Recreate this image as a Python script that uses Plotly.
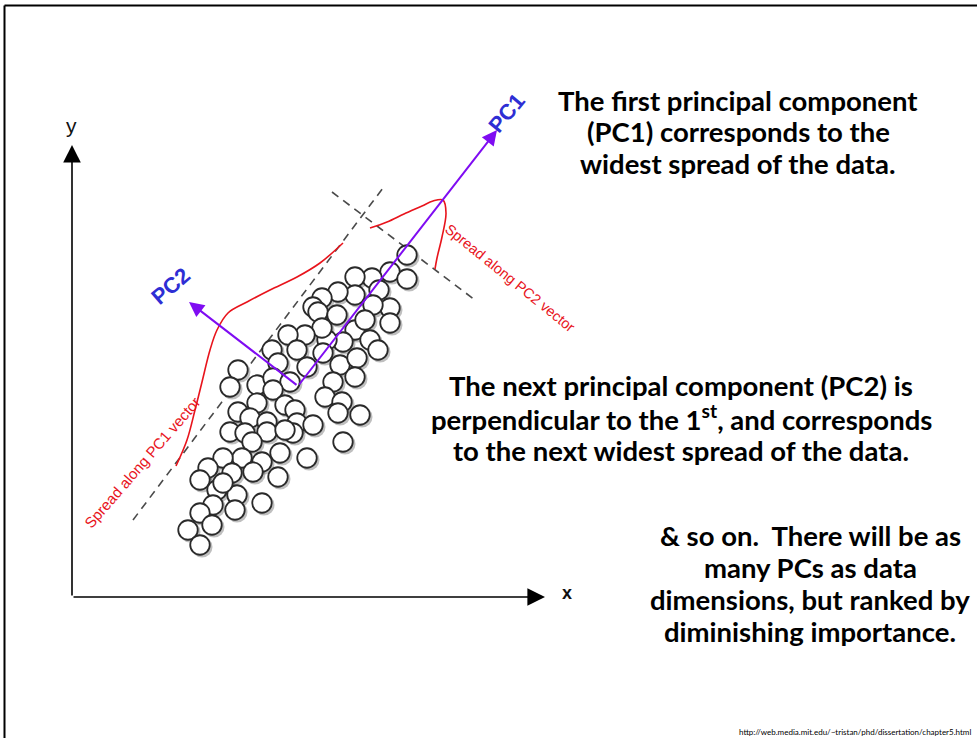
import plotly.graph_objects as go

# ---- data (diagram coordinates: origin at the x/y axes corner, 1 unit ~ 1 px) ----
pts_x = [335, 318, 335, 300, 283, 307, 318, 318, 301, 283, 266, 250, 241, 246, 265, 283, 293, 298, 306, 271,
         255, 250, 233, 216, 225, 251, 268, 285, 283, 261, 235, 200, 206, 166, 158, 185, 201, 218, 201, 185,
         166, 178, 158, 173, 195, 195, 213, 223, 225, 221, 213, 241, 253, 270, 266, 288, 271, 235, 208, 190,
         180, 170, 151, 136, 160, 181, 206, 128, 145, 165, 141, 163, 128, 190, 140, 116, 128, 151]
pts_y = [342, 325, 318, 319, 320, 307, 289, 274, 292, 302, 305, 299, 290, 285, 282, 267, 277, 257, 247, 255,
         257, 269, 262, 262, 247, 244, 232, 239, 220, 215, 230, 247, 234, 227, 210, 212, 219, 215, 207, 194,
         185, 179, 165, 164, 175, 165, 192, 187, 174, 164, 167, 172, 200, 195, 184, 182, 155, 139, 144, 135,
         155, 139, 139, 129, 124, 125, 120, 117, 107, 102, 92, 87, 84, 94, 72, 67, 52, 114]

pc_origin = (226, 211)
pc1_tip = (425, 467)
pc2_tip = (117, 295)

dash1_x = [61, 311]
dash1_y = [77, 409]
dash2_x = [260, 403]
dash2_y = [405, 297]

spread1_x = [104, 115, 123, 130, 138, 145, 156, 175, 198, 225, 248, 271]
spread1_y = [131, 157, 187, 215, 247, 267, 284, 295, 307, 320, 334, 354]
spread2_x = [298, 315, 332, 350, 361, 371, 374, 370, 365, 363]
spread2_y = [369, 375, 383, 391, 396, 397, 384, 360, 339, 328]

block1 = ["The first principal component", "(PC1) corresponds to the", "widest spread of the data."]
block2 = ["The next principal component (PC2) is",
          "perpendicular to the 1<sup>st</sup>, and corresponds",
          "to the next widest spread of the data."]
block3 = ["&amp; so on.  There will be as", "many PCs as data", "dimensions, but ranked by",
          "diminishing importance."]
source = "http://web.media.mit.edu/~tristan/phd/dissertation/chapter5.html"

PURPLE = "#7f0cf2"
BLUE = "#2e2ed4"
RED = "#e8141c"
GRAY = "#4a4a4a"

fig = go.Figure()

# dashed guide lines
for xs, ys in [(dash1_x, dash1_y), (dash2_x, dash2_y)]:
    fig.add_trace(go.Scatter(x=xs, y=ys, mode="lines",
                             line=dict(color=GRAY, width=1.6, dash="8px,6px"), hoverinfo="skip"))

# red spread curves
for xs, ys in [(spread1_x, spread1_y), (spread2_x, spread2_y)]:
    fig.add_trace(go.Scatter(x=xs, y=ys, mode="lines",
                             line=dict(color=RED, width=1.6, shape="spline", smoothing=1.0), hoverinfo="skip"))

# circle shadows and circles
fig.add_trace(go.Scatter(x=[v + 2 for v in pts_x], y=[v - 2 for v in pts_y], mode="markers",
                         marker=dict(size=21, color="rgba(0,0,0,0.25)", line=dict(width=0)), hoverinfo="skip"))
fig.add_trace(go.Scatter(x=pts_x, y=pts_y, mode="markers",
                         marker=dict(size=19.5, color="white", line=dict(color="#2a2a2a", width=1.8)),
                         hoverinfo="skip"))

annotations = []
# axes arrows
annotations.append(dict(x=0, y=452, ax=0, ay=0, xref="x", yref="y", axref="x", ayref="y", text="",
                        showarrow=True, arrowhead=2, arrowsize=2.2, arrowwidth=1.6, arrowcolor="black", standoff=0))
annotations.append(dict(x=473, y=0, ax=0, ay=0, xref="x", yref="y", axref="x", ayref="y", text="",
                        showarrow=True, arrowhead=2, arrowsize=2.2, arrowwidth=1.6, arrowcolor="black", standoff=0))
annotations.append(dict(x=-1, y=472, xref="x", yref="y", text="y", showarrow=False,
                        font=dict(family="Liberation Sans", size=21, color="#111")))
annotations.append(dict(x=495, y=4, xref="x", yref="y", text="<b>x</b>", showarrow=False,
                        font=dict(family="Liberation Sans", size=18, color="#111")))
# PC arrows
for tip in (pc1_tip, pc2_tip):
    annotations.append(dict(x=tip[0], y=tip[1], ax=pc_origin[0], ay=pc_origin[1], xref="x", yref="y",
                            axref="x", ayref="y", text="", showarrow=True, arrowhead=2, arrowsize=1.5,
                            arrowwidth=2, arrowcolor=PURPLE, standoff=0))
annotations.append(dict(x=434, y=484, xref="x", yref="y", text="<b>PC1</b>", showarrow=False, textangle=-50,
                        font=dict(family="Liberation Sans", size=22, color=BLUE)))
annotations.append(dict(x=98, y=311, xref="x", yref="y", text="<b>PC2</b>", showarrow=False, textangle=-41,
                        font=dict(family="Liberation Sans", size=22, color=BLUE)))
annotations.append(dict(x=70, y=135, xref="x", yref="y", text="Spread along PC1 vector", showarrow=False,
                        textangle=-49, font=dict(family="Liberation Sans", size=15, color=RED)))
annotations.append(dict(x=438, y=319, xref="x", yref="y", text="Spread along PC2 vector", showarrow=False,
                        textangle=39, font=dict(family="Liberation Sans", size=14.5, color=RED)))

TXT = dict(family="Lato", size=27.5, color="black")
for i, t in enumerate(block1):
    annotations.append(dict(x=666, y=497 - 31.5 * i, xref="x", yref="y", text="<b>" + t + "</b>",
                            showarrow=False, font=TXT))
for i, t in enumerate(block2):
    annotations.append(dict(x=609, y=212 - 32.5 * i, xref="x", yref="y", text="<b>" + t + "</b>",
                            showarrow=False, font=TXT))
for i, t in enumerate(block3):
    annotations.append(dict(x=738, y=62 - 32.3 * i, xref="x", yref="y", text="<b>" + t + "</b>",
                            showarrow=False, font=TXT))
annotations.append(dict(x=901, y=-135, xref="x", yref="y", text=source, showarrow=False, xanchor="right",
                        font=dict(family="Lato", size=8, color="black")))

shapes = [
    dict(type="line", xref="x", yref="y", x0=-67.5, x1=905, y0=591.5, y1=591.5, line=dict(color="black", width=2)),
    dict(type="line", xref="x", yref="y", x0=-67.5, x1=-67.5, y0=591.5, y1=-141, line=dict(color="black", width=2)),
]

fig.update_layout(
    width=977, height=738, autosize=False,
    margin=dict(l=0, r=0, t=0, b=0),
    paper_bgcolor="white", plot_bgcolor="white",
    showlegend=False,
    xaxis=dict(range=[-72, 905], visible=False, fixedrange=True),
    yaxis=dict(range=[-141, 597], visible=False, fixedrange=True),
    annotations=annotations, shapes=shapes,
)

fig.write_html("out.html", config={"displayModeBar": False, "staticPlot": True},
               post_script="document.body.style.margin='0px';document.body.style.overflow='hidden';")
